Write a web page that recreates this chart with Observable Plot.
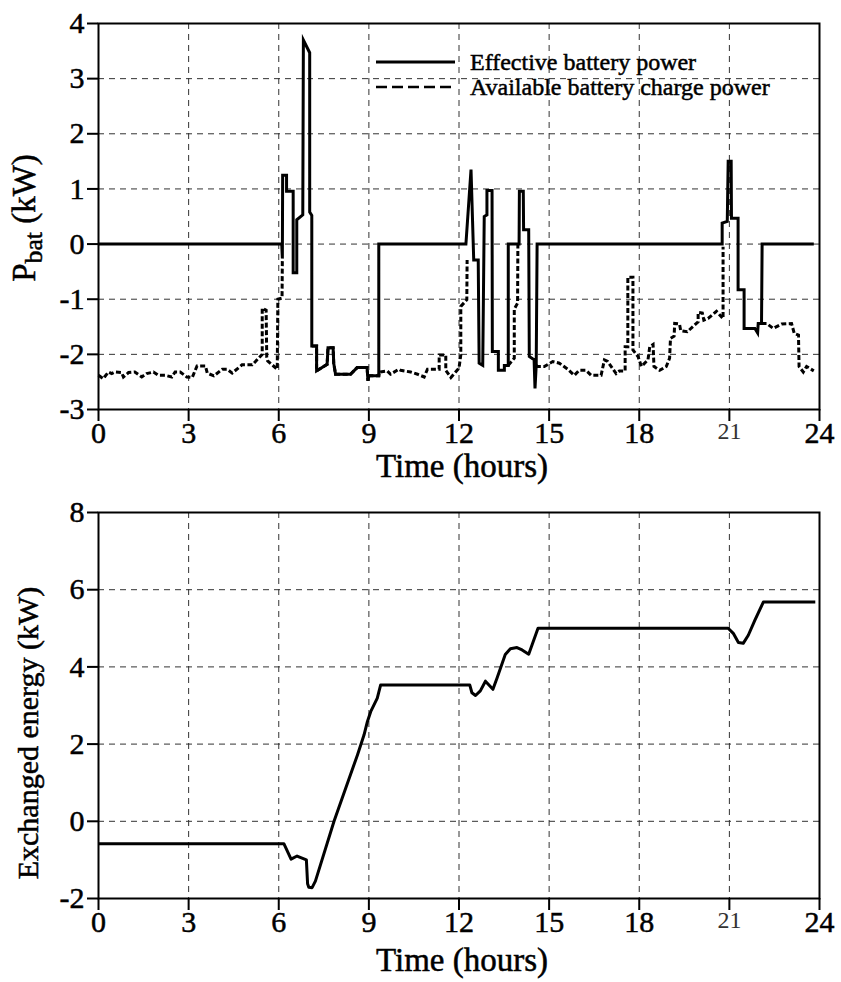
<!DOCTYPE html>
<html><head><meta charset="utf-8">
<script src="https://cdn.jsdelivr.net/npm/d3@7"></script>
<script src="https://cdn.jsdelivr.net/npm/@observablehq/plot@0.6"></script>
<style>
html,body{margin:0;padding:0;background:#fff;}
#chart{width:841px;}
#chart svg{display:block;}
#chart svg text{stroke:#000;stroke-width:0.5px;paint-order:stroke;}
</style></head><body><div id="chart"></div>
<script>
// ---------- data ----------
const hourTicks = [0, 3, 6, 9, 12, 15, 18, 21, 24];
const pbatTicks = [-3, -2, -1, 0, 1, 2, 3, 4];
const energyTicks = [-2, 0, 2, 4, 6, 8];

// Effective battery power (kW)
const effHour = [0,6.10,6.12,6.13,6.26,6.26,6.48,6.48,6.60,6.60,6.80,6.82,7.03,7.03,7.10,7.10,7.26,7.26,7.61,7.64,7.81,7.83,7.89,8.39,8.61,8.94,8.97,9.00,9.33,9.33,
  12.23,12.40,12.49,12.64,12.67,12.79,12.84,12.93,12.93,13.10,13.11,13.31,13.31,13.51,13.51,13.64,13.64,14.00,14.01,14.14,14.15,14.32,14.34,14.50,14.53,14.57,14.60,
  20.76,20.76,20.93,20.96,21.06,21.07,21.29,21.29,21.49,21.49,21.85,21.94,21.96,22.07,22.09,23.81];
const effPower = [0,0,-0.26,1.25,1.25,0.96,0.96,-0.52,-0.52,0.44,0.53,3.70,3.47,0.58,0.52,-1.85,-1.85,-2.30,-2.18,-1.88,-1.88,-2.16,-2.36,-2.36,-2.24,-2.24,-2.48,-2.39,-2.39,0,
  0,1.35,-0.29,-0.29,-2.16,-2.20,0.50,0.53,0.97,0.97,-1.95,-1.95,-2.29,-2.29,-2.20,-2.20,0,0,0.96,0.96,0.26,0.26,-2.04,-2.10,-2.62,-2.20,0,
  0,0.38,0.41,1.50,1.50,0.47,0.47,-0.83,-0.83,-1.53,-1.53,-1.61,-1.44,-1.44,0,0];

// Available battery charge power (kW); NaN = not shown
const availHour = [0,0.16,0.20,0.33,0.44,0.55,0.77,0.83,1.00,1.21,1.44,1.60,1.83,1.99,2.22,2.44,2.55,2.72,2.94,3.12,3.28,3.56,3.62,3.84,4.12,4.28,4.45,4.78,5.12,5.45,5.45,5.58,5.60,5.63,5.95,5.97,6.11,6.12,
  6.5,
  7.10,7.26,7.26,7.61,7.64,7.81,7.83,7.89,8.39,8.61,8.94,8.97,9.00,9.33,9.35,9.61,9.72,10.00,10.06,10.39,10.62,10.84,10.95,11.34,11.34,11.56,11.56,11.73,12.00,12.06,12.06,12.26,12.27,
  13.0,
  13.64,13.84,13.84,13.95,13.96,
  14.3,
  14.57,14.62,14.84,15.12,15.34,15.62,15.84,16.00,16.23,16.40,16.73,16.84,16.95,17.23,17.34,17.53,17.53,17.62,17.62,17.79,17.79,17.96,18.07,18.29,18.35,18.46,18.49,18.68,18.90,19.01,19.04,19.16,19.18,19.34,19.38,19.60,19.96,19.96,20.10,20.15,20.29,20.57,20.79,20.79,
  21.5,
  22.07,22.24,22.46,22.74,23.07,23.16,23.30,23.32,23.46,23.57,23.81];
const availPower = [-2.38,-2.44,-2.41,-2.32,-2.35,-2.32,-2.33,-2.41,-2.33,-2.32,-2.41,-2.35,-2.32,-2.38,-2.38,-2.41,-2.32,-2.32,-2.41,-2.42,-2.21,-2.21,-2.34,-2.39,-2.27,-2.27,-2.34,-2.19,-2.19,-2.00,-1.16,-1.20,-2.05,-2.12,-2.27,-1.00,-0.98,-0.26,
  NaN,
  -1.85,-1.85,-2.30,-2.18,-1.88,-1.88,-2.16,-2.36,-2.36,-2.24,-2.24,-2.48,-2.39,-2.39,-2.32,-2.30,-2.36,-2.27,-2.29,-2.32,-2.36,-2.41,-2.27,-2.27,-2.01,-2.01,-2.29,-2.42,-2.25,-2.01,-1.13,-1.01,-0.29,
  NaN,
  -2.20,-2.07,-1.18,-1.07,0,
  NaN,
  -2.20,-2.22,-2.22,-2.13,-2.16,-2.27,-2.38,-2.29,-2.29,-2.38,-2.38,-2.10,-2.13,-2.35,-2.30,-2.30,-1.86,-1.86,-0.60,-0.60,-1.92,-2.04,-2.22,-2.10,-1.86,-1.82,-2.22,-2.29,-2.22,-2.07,-1.71,-1.67,-1.44,-1.45,-1.57,-1.59,-1.41,-1.24,-1.25,-1.38,-1.35,-1.22,-1.35,-0.05,
  NaN,
  -1.44,-1.44,-1.53,-1.45,-1.44,-1.62,-1.65,-2.22,-2.32,-2.22,-2.30];

// Exchanged energy
const energyHour = [0,6.17,6.41,6.61,6.92,6.96,7.00,7.11,7.22,7.84,8.62,8.84,8.95,9.06,9.28,9.39,12.36,12.43,12.55,12.71,12.88,13.13,13.27,13.54,13.71,13.93,14.10,14.32,14.63,20.96,21.13,21.30,21.46,21.63,21.85,22.13,23.86];
const energyValue = [-0.58,-0.58,-0.98,-0.90,-1.00,-1.62,-1.71,-1.72,-1.55,0,1.72,2.24,2.58,2.84,3.19,3.53,3.53,3.33,3.26,3.38,3.63,3.42,3.72,4.32,4.47,4.50,4.44,4.33,5.00,5.00,4.87,4.63,4.61,4.82,5.21,5.68,5.68];

// ---------- build ----------
const effData = effHour.map((h, i) => ({h, p: effPower[i]}));
const availData = availHour.map((h, i) => ({h, p: availPower[i]}));
const energyData = energyHour.map((h, i) => ({h, e: energyValue[i]}));

const font = "'Liberation Serif','Times New Roman',Times,serif";
const fmt = d => String(d);
const gridStyle = {stroke: "#333", strokeOpacity: 1, strokeWidth: 1, strokeDasharray: "6,5"};

function panel({height, marginTop, marginBottom, yDomain, yTicks, marks}) {
  return Plot.plot({
    width: 841, height,
    marginLeft: 98, marginRight: 22, marginTop, marginBottom,
    style: {fontFamily: font, fontSize: "30px", background: "#fff", color: "#000", overflow: "visible"},
    x: {domain: [0, 24]},
    y: {domain: yDomain},
    marks: [
      Plot.gridX(hourTicks.slice(1, -1), gridStyle),
      Plot.gridY(yTicks.slice(1, -1), gridStyle),
      ...marks,
      Plot.frame({stroke: "#000", strokeWidth: 2}),
      Plot.axisX(hourTicks, {tickSize: 12, tickPadding: 0, fontSize: 30, tickFormat: fmt, label: null, strokeWidth: 2}),
      Plot.axisY(yTicks, {tickSize: 11, tickPadding: 3, fontSize: 30, tickFormat: fmt, label: null, strokeWidth: 2})
    ]
  });
}

const lineStyle = {stroke: "#000", strokeWidth: 3, strokeLinejoin: "miter", strokeMiterlimit: 6, strokeLinecap: "butt"};

const topChart = panel({
  height: 490, marginTop: 23, marginBottom: 81,
  yDomain: [-3, 4], yTicks: pbatTicks,
  marks: [
    Plot.line(availData, {x: "h", y: "p", ...lineStyle, strokeWidth: 3, strokeDasharray: "5,2.5"}),
    Plot.line(effData, {x: "h", y: "p", ...lineStyle})
  ]
});

const bottomChart = panel({
  height: 492, marginTop: 22, marginBottom: 84,
  yDomain: [-2, 8], yTicks: energyTicks,
  marks: [
    Plot.line(energyData, {x: "h", y: "e", ...lineStyle, strokeLinejoin: "round"})
  ]
});

const chart = document.getElementById("chart");
chart.appendChild(topChart);
chart.appendChild(bottomChart);

// axis titles and legend
function addText(svg, {x, y, rotate = 0, size = 29, anchor = "middle", parts}) {
  const t = d3.select(svg).append("text")
    .attr("transform", `translate(${x},${y}) rotate(${rotate})`)
    .attr("text-anchor", anchor)
    .attr("font-family", font)
    .attr("font-size", size)
    .attr("fill", "#000");
  for (const p of parts) {
    const s = t.append("tspan").text(p.text);
    if (p.sub) s.attr("font-size", size * 0.78).attr("dy", "0.28em");
    if (p.unsub) s.attr("dy", "-0.22em");
  }
  return t;
}

addText(topChart, {x: 35, y: 218, rotate: -90, size: 33, parts: [{text: "P"}, {text: "bat", sub: true}, {text: " (kW)", unsub: true}]});
addText(topChart, {x: 462, y: 477, size: 33, parts: [{text: "Time (hours)"}]});
addText(bottomChart, {x: 38, y: 243, rotate: -90, size: 30, parts: [{text: "Exchanged energy (kW)"}]});
addText(bottomChart, {x: 462, y: 481, size: 33, parts: [{text: "Time (hours)"}]});

// legend
const lg = d3.select(topChart).append("g");
lg.append("line").attr("x1", 376).attr("x2", 455).attr("y1", 62).attr("y2", 62)
  .attr("stroke", "#000").attr("stroke-width", 3);
lg.append("line").attr("x1", 376).attr("x2", 455).attr("y1", 87).attr("y2", 87)
  .attr("stroke", "#000").attr("stroke-width", 2.6).attr("stroke-dasharray", "11,5");
addText(topChart, {x: 470, y: 70, size: 24, anchor: "start", parts: [{text: "Effective battery power"}]});
addText(topChart, {x: 470, y: 95, size: 24, anchor: "start", parts: [{text: "Available battery charge power"}]});

// the "21" tick label is set lighter and smaller in the original
for (const svg of [topChart, bottomChart]) {
  d3.select(svg).selectAll("text").filter(function () { return this.textContent === "21"; })
    .attr("font-size", 24).attr("fill", "#333").style("stroke-width", "0px");
}
</script></body></html>
